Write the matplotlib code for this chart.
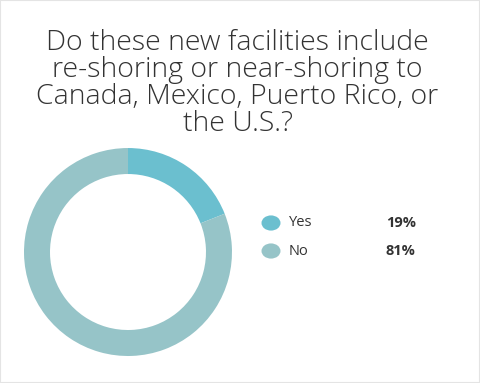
import matplotlib
matplotlib.use('Agg')
import matplotlib.pyplot as plt
from matplotlib.patches import Circle, Rectangle

# Dados do gráfico
categorias = ['Yes', 'No']
valores = [19, 81]
rotulos_pct = ['19%', '81%']
cores = ['#6bbfcf', '#96c4c8']
titulo = ('Do these new facilities include\n'
          're-shoring or near-shoring to\n'
          'Canada, Mexico, Puerto Rico, or\n'
          'the U.S.?')

fig = plt.figure(figsize=(4.8, 3.83), dpi=100)
fig.patch.set_facecolor('white')

# Borda cinza clara
fig.add_artist(Rectangle((0, 0), 1, 1, transform=fig.transFigure,
                         fill=False, edgecolor='#e4e4e4', linewidth=1.5))

fig.text(0.495, 0.925, titulo, ha='center', va='top', fontsize=20.5,
         family='Open Sans', fontweight='light', color='#333333',
         linespacing=0.96)

# Rosca
ax = fig.add_axes([0.05, 0.0705, 0.4333, 0.543])
ax.pie(valores, colors=cores, startangle=90, counterclock=False,
       radius=1, wedgeprops=dict(width=0.25, linewidth=0))
ax.set_xlim(-1, 1)
ax.set_ylim(-1, 1)
ax.set_aspect('equal')
ax.axis('off')

# Legenda manual
y0 = 223
for i, (cat, pct, cor) in enumerate(zip(categorias, rotulos_pct, cores)):
    y = 1 - (y0 + i * 28) / 383
    fig.add_artist(Circle((271 / 480, y), 9.5 / 480, transform=fig.transFigure,
                          facecolor=cor, edgecolor='none'))
    fig.text(289 / 480, y, cat, ha='left', va='center', fontsize=10.5,
             family='Open Sans', color='#333333')
    fig.text(386 / 480, y, pct, ha='left', va='center', fontsize=10.5,
             family='Open Sans', fontweight='bold', color='#333333')

fig.savefig('out.png', dpi=100)
